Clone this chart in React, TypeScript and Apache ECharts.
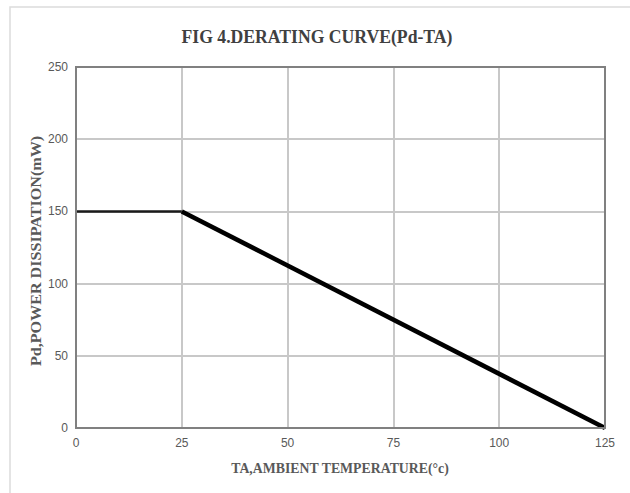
import React, { useEffect, useRef } from "react";
import * as echarts from "echarts";

// Derating curve: power dissipation vs ambient temperature
const flatTemps = [0, 25];
const flatPower = [150, 150];
const deratingTemps = [25, 125];
const deratingPower = [150, 0];

const xTicks = [0, 25, 50, 75, 100, 125];
const yTicks = [0, 50, 100, 150, 200, 250];

const chartTitle = "FIG 4.DERATING CURVE(Pd-TA)";
const xName = "TA,AMBIENT TEMPERATURE(°c)";
const yName = "Pd,POWER DISSIPATION(mW)";

const pair = (xs: number[], ys: number[]) => xs.map((x, i) => [x, ys[i]]);

export default function App() {
  const ref = useRef<HTMLDivElement>(null);

  useEffect(() => {
    if (!ref.current) return;
    const chart = echarts.init(ref.current, null, { renderer: "svg" });
    const serif = "'Liberation Serif', 'DejaVu Serif', serif";
    const tickFont = "'Liberation Sans', Arial, sans-serif";
    const textGray = "#595959";
    chart.setOption({
      animation: false,
      backgroundColor: "#ffffff",
      grid: { left: 76, right: 25, top: 67, bottom: 65, containLabel: false },
      graphic: [
        {
          type: "rect",
          shape: { x: 10, y: 7, width: 640, height: 500 },
          style: { fill: "none", stroke: "#dcdcdc", lineWidth: 1.5 },
          silent: true,
        },
        {
          type: "text",
          x: 317,
          y: 37,
          scaleX: 0.93,
          style: {
            text: chartTitle,
            align: "center",
            verticalAlign: "middle",
            font: `bold 19px ${serif}`,
            fill: "#404040",
          },
        },
        {
          type: "text",
          x: 340,
          y: 468,
          scaleX: 0.92,
          style: {
            text: xName,
            align: "center",
            verticalAlign: "middle",
            font: `bold 15px ${serif}`,
            fill: textGray,
          },
        },
        {
          type: "text",
          x: 36,
          y: 251,
          rotation: Math.PI / 2,
          scaleX: 1.04,
          style: {
            text: yName,
            align: "center",
            verticalAlign: "middle",
            font: `bold 15.5px ${serif}`,
            fill: textGray,
          },
        },
        {
          type: "rect",
          shape: { x: 76, y: 67, width: 529, height: 361 },
          style: { fill: "none", stroke: "#808080", lineWidth: 2 },
          silent: true,
          z: 10,
        },
      ],
      xAxis: {
        type: "value",
        min: 0,
        max: 125,
        interval: 25,
        axisLine: { show: false },
        axisTick: { show: false },
        axisLabel: {
          color: textGray,
          fontFamily: tickFont,
          fontSize: 12,
          margin: 9,
          formatter: (v: number) => (xTicks.includes(v) ? String(v) : ""),
        },
        splitLine: { show: true, lineStyle: { color: "#c8c8c8", width: 2 } },
      },
      yAxis: {
        type: "value",
        min: 0,
        max: 250,
        interval: 50,
        axisLine: { show: false },
        axisTick: { show: false },
        axisLabel: {
          color: textGray,
          fontFamily: tickFont,
          fontSize: 12,
          margin: 8,
          formatter: (v: number) => (yTicks.includes(v) ? String(v) : ""),
        },
        splitLine: { show: true, lineStyle: { color: "#c8c8c8", width: 2 } },
      },
      series: [
        {
          name: "flat",
          type: "line",
          data: pair(flatTemps, flatPower),
          symbol: "none",
          lineStyle: { color: "#1a1a1a", width: 2.5 },
          z: 5,
        },
        {
          name: "derating",
          type: "line",
          data: pair(deratingTemps, deratingPower),
          symbol: "none",
          lineStyle: { color: "#000000", width: 4.5 },
          z: 6,
        },
      ],
    });
    return () => chart.dispose();
  }, []);

  return (
    <div
      ref={ref}
      style={{ position: "fixed", left: 0, top: 0, width: 630, height: 493 }}
    />
  );
}
